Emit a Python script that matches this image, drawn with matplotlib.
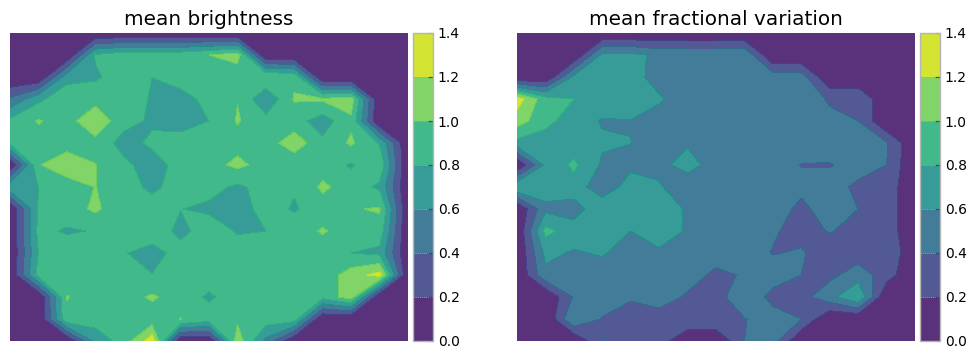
import numpy as np
import matplotlib
matplotlib.use("Agg")
import matplotlib.pyplot as plt

titles = ["mean brightness", "mean fractional variation"]
levels = [0, 0.2, 0.4, 0.6, 0.8, 1.0, 1.2, 1.4]

brightness = [
    [0]*15,
    [0,0,0,.82,.92,.92,.92,1.0,1.1,0,0,0,0,0,0],
    [0,0,.72,.77,.9,.801,.92,.9,.85,1.0,.95,0,0,0,0],
    [.43,.75,.95,.93,.97,.77,.7,.88,.995,.62,1.02,1.03,1.1,0,0],
    [.85,1.015,.92,1.15,.87,.77,.7,.8,1.015,.88,.88,.7,.96,0,0],
    [.85,.92,.9,.94,.72,.84,.9,.9,.93,.9,1.12,.85,1.03,.78,0],
    [0,.985,1.15,1.005,.85,.7,.88,.92,1.05,.92,.85,.9,.78,.95,0],
    [.75,.8,.88,1.005,.9,.75,.9,.88,.76,.88,.82,1.04,.9,.76,0],
    [0,.82,.89,1.04,.85,.9,.805,.75,.7,.88,.78,.9,.98,1.024,0],
    [0,.85,.78,.81,.9,.98,.72,.94,.78,.8,.9,1.02,.9,.91,0],
    [0,.8,.9,.9,.82,.68,.92,.9,.9,.9,.9,.9,.8,.75,0],
    [0,.88,.9,.9,.9,.81,.9,.9,.9,.9,.9,.87,1.1,1.275,0],
    [0,0,1.01,.9,.9,1.03,.9,.77,.9,.9,.9,.87,1.1,0,0],
    [0,0,.95,.9,.9,.89,1.005,.9,.96,.9,.9,0,0,0,0],
    [0,0,0,.66,.89,1.32,0,0,1.12,.55,0,0,0,0,0],
]

variation = [
    [0]*15,
    [0,0,0,.65,.65,.56,.55,.55,.58,0,0,0,0,0,0],
    [0,0,.65,.7,.7,.5,.5,.5,.5,.5,.5,0,0,0,0],
    [1.3,.88,.8,.7,.7,.63,.48,.5,.5,.5,.5,.38,.4,0,0],
    [1.1,.86,.7,.585,.595,.5,.5,.5,.5,.5,.5,.44,.4,0,0],
    [.73,.7,.7,.625,.602,.5,.58,.5,.5,.5,.5,.5,.5,.42,0],
    [0,.65,.84,.57,.55,.55,.67,.52,.5,.5,.395,.385,.5,.4,0],
    [.78,.7,.72,.46,.7,.62,.48,.5,.5,.5,.45,.5,.35,.33,0],
    [0,.55,.5,.76,.7,.7,.58,.5,.5,.5,.35,.5,.4,.33,0],
    [0,.86,.7,.7,.6,.7,.58,.5,.5,.42,.34,.41,.35,.33,0],
    [0,.65,.58,.62,.5,.57,.5,.5,.5,.39,.42,.3,.3,.402,0],
    [0,.55,.5,.5,.5,.5,.5,.35,.42,.5,.4,.35,.5,.3,0],
    [0,0,.42,.48,.42,.5,.37,.3,.58,.33,.33,.53,.805,0,0],
    [0,0,.605,.39,.32,.3,.39,.39,.39,.5,.4,0,0,0,0],
    [0,0,0,.405,.3,.31,0,0,.4,.5,0,0,0,0,0],
]

W, H = 976, 359
fig = plt.figure(figsize=(W/100, H/100), dpi=100)

def rect(x0, x1, y0, y1):
    return [x0/W, 1-y1/H, (x1-x0)/W, (y1-y0)/H]

panels = [(10, 408, 413, 433, brightness), (517, 915, 920, 940, variation)]
for (ax0, ax1, c0, c1, data), title in zip(panels, titles):
    ax = fig.add_axes(rect(ax0, ax1, 33, 341))
    cax = fig.add_axes(rect(c0, c1, 33, 341))
    z = np.array(data, dtype=float)
    cf = ax.contourf(np.arange(15), np.arange(15), z, levels=levels,
                     cmap="viridis", alpha=0.9)
    ax.invert_yaxis()
    ax.set_xticks([])
    ax.set_yticks([])
    for s in ax.spines.values():
        s.set_visible(False)
    ax.set_title(title, fontsize=14.4, pad=6)
    cb = fig.colorbar(cf, cax=cax, drawedges=True)
    cb.set_ticks(levels)
    cb.ax.tick_params(labelsize=10, direction="in", length=3.5, width=0.8)
    cb.dividers.set_color("#a8a8a8")
    cb.dividers.set_linewidth(0.5)
    cb.dividers.set_linestyle((0, (2, 1)))
    cb.outline.set_edgecolor("#b5b5b5")
    cb.outline.set_linewidth(1.0)

fig.savefig("out.png", dpi=100)
